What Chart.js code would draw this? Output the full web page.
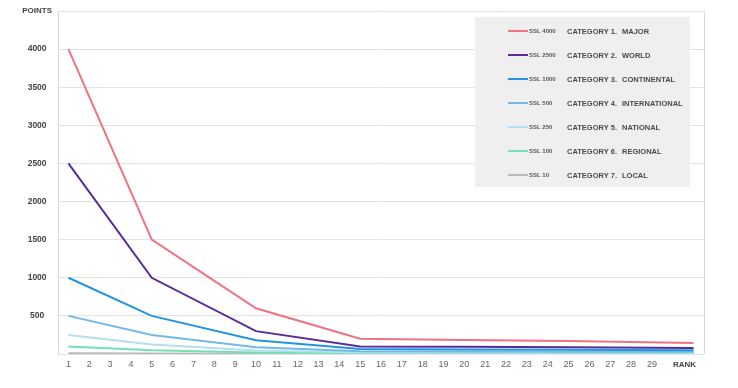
<!DOCTYPE html>
<html>
<head>
<meta charset="utf-8">
<script src="https://cdn.jsdelivr.net/npm/chart.js@4"></script>
<style>
  html, body { margin: 0; padding: 0; background: #fff; }
  #wrap { width: 738px; height: 388px; }
</style>
</head>
<body>
<div id="wrap"><canvas id="chart"></canvas></div>
<script>
// Rank labels on the x axis (last slot carries the axis name)
const rankLabels = ['1','2','3','4','5','6','7','8','9','10','11','12','13','14','15',
  '16','17','18','19','20','21','22','23','24','25','26','27','28','29','',''];
const xAxisName = 'RANK';
// Ranks where values are read
const keyRanks = [1, 5, 10, 15, 20, 25, 31];

const ssl4000 = [4000, 1500, 600, 200, 185, 170, 145];
const ssl2500 = [2500, 1000, 300, 100, 95, 90, 80];
const ssl1000 = [1000, 500, 180, 65, 60, 55, 50];
const ssl500  = [500, 250, 90, 35, 32, 30, 28];
const ssl250  = [250, 125, 45, 20, 18, 16, 15];
const ssl100  = [100, 50, 20, 10, 9, 8, 7];
const ssl10   = [10, 5, 2, 1, 1, 1, 1];

const seriesNames = ['SSL 4000', 'SSL 2500', 'SSL 1000', 'SSL 500', 'SSL 250', 'SSL 100', 'SSL 10'];
const categoryNames = ['CATEGORY 1.', 'CATEGORY 2.', 'CATEGORY 3.', 'CATEGORY 4.', 'CATEGORY 5.', 'CATEGORY 6.', 'CATEGORY 7.'];
const levelNames = ['MAJOR', 'WORLD', 'CONTINENTAL', 'INTERNATIONAL', 'NATIONAL', 'REGIONAL', 'LOCAL'];
const yTicks = [0, 500, 1000, 1500, 2000, 2500, 3000, 3500, 4000, 4500];

const colors = ['#f0727f', '#5a2b96', '#2394de', '#72b9e6', '#b4def2', '#74e0b4', '#b9b9b9'];
const allSeries = [ssl4000, ssl2500, ssl1000, ssl500, ssl250, ssl100, ssl10];

function toRankData(values) {
  const arr = rankLabels.map(() => null);
  keyRanks.forEach((r, i) => { arr[r - 1] = values[i]; });
  return arr;
}

const FONT = '"Liberation Sans", Arial, sans-serif';

// custom legend box, right border and axis name
const extras = {
  id: 'extras',
  afterDatasetsDraw(chart) {
    const ctx = chart.ctx;
    const a = chart.chartArea;
    ctx.save();
    ctx.strokeStyle = '#d9d9d9';
    ctx.lineWidth = 1;
    ctx.beginPath();
    ctx.moveTo(Math.round(a.right) + 0.5, a.top);
    ctx.lineTo(Math.round(a.right) + 0.5, a.bottom);
    ctx.stroke();

    ctx.textBaseline = 'middle';
    ctx.textAlign = 'center';
    ctx.fillStyle = '#444';
    ctx.font = 'bold 8px ' + FONT;
    ctx.fillText(xAxisName, chart.scales.x.getPixelForValue(30) - 9, a.bottom + 11);

    ctx.textAlign = 'left';
    ctx.fillStyle = '#efefef';
    ctx.fillRect(475, 17, 215, 170);
    seriesNames.forEach((name, i) => {
      const y = 31 + i * 24;
      ctx.strokeStyle = colors[i];
      ctx.lineWidth = 2;
      ctx.beginPath();
      ctx.moveTo(508, y);
      ctx.lineTo(528, y);
      ctx.stroke();
      ctx.fillStyle = '#555';
      ctx.font = 'bold 6px ' + FONT;
      ctx.fillText(name, 529, y);
      ctx.fillStyle = '#4a4a4a';
      ctx.font = 'bold 7.5px ' + FONT;
      ctx.fillText(categoryNames[i], 567, y + 1);
      ctx.fillText(levelNames[i], 622, y + 1);
    });
    ctx.restore();
  }
};

new Chart(document.getElementById('chart'), {
  type: 'line',
  data: {
    labels: rankLabels,
    datasets: allSeries.map((s, i) => ({
      label: seriesNames[i],
      data: toRankData(s),
      borderColor: colors[i],
      backgroundColor: colors[i],
      borderWidth: 2,
      pointRadius: 0,
      tension: 0,
      spanGaps: true
    }))
  },
  options: {
    responsive: true,
    maintainAspectRatio: false,
    animation: false,
    layout: { padding: { top: 11, right: 34, left: 0, bottom: 0 } },
    plugins: { legend: { display: false }, tooltip: { enabled: false } },
    scales: {
      x: {
        offset: true,
        grid: { display: false, drawTicks: false },
        border: { display: false },
        afterFit(scale) { scale.height = 34; },
        ticks: {
          autoSkip: false,
          maxRotation: 0,
          padding: 5,
          color: '#666',
          font: { family: FONT, size: 9 }
        }
      },
      y: {
        min: 0,
        max: 4500,
        afterBuildTicks(scale) { scale.ticks = yTicks.map(v => ({ value: v })); },
        afterFit(scale) { scale.width = 58; },
        grid: { color: '#e3e3e3', drawTicks: false },
        border: { color: '#d9d9d9' },
        ticks: {
          crossAlign: 'center',
          padding: 6,
          color: '#444',
          font: ctx => ({ family: FONT, size: ctx.index === 9 ? 8 : 8.5, weight: 'bold' }),
          callback: v => v === 4500 ? 'POINTS' : (v === 0 ? '' : String(v))
        }
      }
    }
  },
  plugins: [extras]
});
</script>
</body>
</html>
